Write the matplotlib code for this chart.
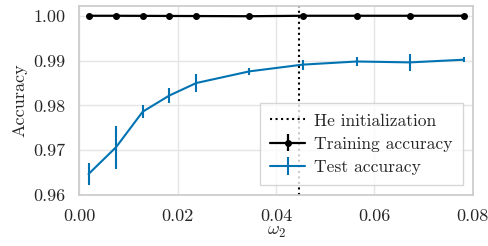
import numpy as np
import matplotlib.pyplot as plt
import seaborn as sns

sns.set_theme(style="whitegrid")
plt.rcParams.update({
    "font.family": "serif",
    "font.serif": ["cmr10"],
    "mathtext.fontset": "cm",
    "axes.formatter.use_mathtext": True,
    "font.size": 13,
    "axes.labelsize": 13,
    "xtick.labelsize": 13,
    "ytick.labelsize": 13,
    "legend.fontsize": 12.6,
    "axes.edgecolor": "#cccccc",
    "grid.color": "#e5e5e5",
})

# data
omega2 = [0.0019, 0.0075, 0.0129, 0.0183, 0.0238, 0.0346, 0.0454, 0.0564, 0.0672, 0.0782]
train_acc = [1.0, 1.0, 0.99998, 0.99996, 0.99994, 0.99990, 1.0, 1.0, 1.0, 1.0]
train_err = [0.00005] * 10
test_acc = [0.9647, 0.9707, 0.9786, 0.9822, 0.9850, 0.9876, 0.9891, 0.9898, 0.9896, 0.9902]
test_err = [0.0025, 0.0048, 0.0015, 0.0016, 0.0019, 0.0008, 0.0011, 0.0011, 0.0019, 0.0006]
he_init = 0.0447

fig = plt.figure(figsize=(4.89, 2.46), dpi=100)
ax = fig.add_axes([0.162, 0.207, 0.805, 0.769])

ax.axvline(he_init, color="black", linestyle=":", linewidth=1.5, label="He initialization")
ax.errorbar(omega2, train_acc, yerr=train_err, color="black", marker="o", markersize=4,
            linewidth=1.6, label="Training accuracy")
ax.errorbar(omega2, test_acc, yerr=test_err, color="#0173b2", linewidth=1.5,
            elinewidth=1.5, label="Test accuracy")

ax.set_xlim(0, 0.08)
ax.set_ylim(0.96, 1.0022)
ax.set_xticks([0, 0.02, 0.04, 0.06, 0.08])
ax.set_xticklabels(["0.00", "0.02", "0.04", "0.06", "0.08"])
ax.set_yticks([0.96, 0.97, 0.98, 0.99, 1.00])
ax.set_yticklabels(["0.96", "0.97", "0.98", "0.99", "1.00"])
ax.tick_params(axis="both", pad=4)
ax.set_xlabel(r"$\omega_2$", labelpad=0)
ax.set_ylabel("Accuracy", labelpad=4)

ax.legend(loc="lower right", frameon=True, fancybox=False, borderpad=0.6,
          labelspacing=0.45, handlelength=2.0, handletextpad=0.5, borderaxespad=0.55)

fig.savefig("out.png", dpi=100)
